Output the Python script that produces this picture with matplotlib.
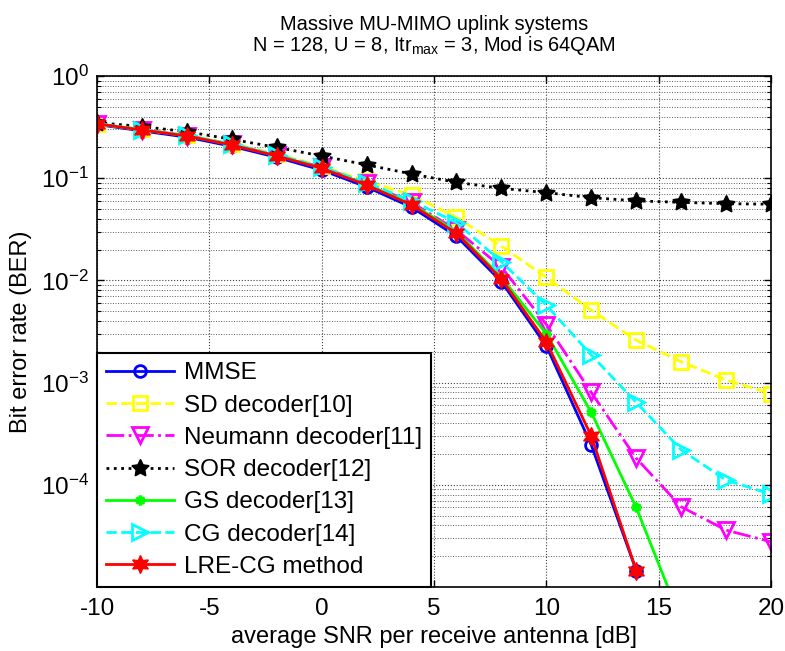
import matplotlib
matplotlib.use("Agg")
import matplotlib.pyplot as plt
import numpy as np

plt.rcParams['font.family'] = ['Liberation Sans', 'DejaVu Sans']
plt.rcParams['mathtext.fontset'] = 'custom'
plt.rcParams['mathtext.rm'] = 'Liberation Sans'
plt.rcParams['mathtext.it'] = 'Liberation Sans:italic'
plt.rcParams['axes.unicode_minus'] = False

# SNR points (dB)
snr = [-10, -8, -6, -4, -2, 0, 2, 4, 6, 8, 10, 12, 14, 16, 18, 20]
nan = np.nan

# BER
ber_mmse = [0.335, 0.29, 0.252, 0.205, 0.16, 0.12, 0.082, 0.052, 0.027, 0.0097,
            0.00228, 0.000245, 1.45e-5, nan, nan, nan]
ber_sd = [0.34, 0.30, 0.264, 0.218, 0.172, 0.132, 0.093, 0.0685, 0.0414, 0.0216,
          0.0107, 0.0051, 0.0026, 0.0016, 0.00106, 0.00078]
ber_neumann = [0.34, 0.298, 0.261, 0.214, 0.168, 0.128, 0.089, 0.058, 0.031, 0.0135,
               0.0037, 0.0008, 1.82e-4, 6.1e-5, 3.6e-5, 2.77e-5]
ber_sor = [0.35, 0.32, 0.285, 0.24, 0.20, 0.165, 0.135, 0.11, 0.091, 0.0796,
           0.0722, 0.0645, 0.060, 0.058, 0.0563, 0.0556]
ber_gs = [0.34, 0.297, 0.26, 0.212, 0.166, 0.126, 0.087, 0.056, 0.030, 0.0107,
          0.003, 0.00051, 6.0e-5, 4.7e-6, nan, nan]
ber_cg = [0.34, 0.298, 0.262, 0.215, 0.169, 0.129, 0.09, 0.060, 0.0367, 0.0152,
          0.0057, 0.00186, 0.00064, 2.2e-4, 1.11e-4, 8.1e-5]
ber_lre = [0.34, 0.296, 0.259, 0.211, 0.165, 0.125, 0.0857, 0.0547, 0.0289, 0.0103,
           0.0025, 0.0003, 1.45e-5, nan, nan, nan]

labels = ['MMSE', 'SD decoder[10]', 'Neumann decoder[11]', 'SOR decoder[12]',
          'GS decoder[13]', 'CG decoder[14]', 'LRE-CG method']

fig = plt.figure(figsize=(7.85, 6.51), dpi=100)
ax = fig.add_axes([0.1236, 0.0983, 0.8586, 0.785])

lw = 2
ax.plot(snr, ber_mmse, '-', color='blue', lw=lw, marker='o', ms=8.5, mfc='none', mew=2, label=labels[0])
ax.plot(snr, ber_sd, '--', color='yellow', lw=lw, marker='s', ms=10, mfc='none', mew=2, label=labels[1])
ax.plot(snr, ber_neumann, '-.', color='magenta', lw=lw, marker='v', ms=11, mfc='none', mew=2, label=labels[2])
ax.plot(snr, ber_sor, ':', color='black', lw=lw, marker=(5, 1, 0), ms=13, mfc='black', label=labels[3])
ax.plot(snr, ber_gs, '-', color='#00ff00', lw=lw, marker=(6, 2, 0), ms=7, mew=2.5, label=labels[4])
ax.plot(snr, ber_cg, '--', color='cyan', lw=lw, marker='>', ms=11, mfc='none', mew=2, label=labels[5])
ax.plot(snr, ber_lre, '-', color='red', lw=lw, marker=(6, 1, 0), ms=13, mfc='red', label=labels[6])

ax.set_yscale('log')
ax.set_xlim(-10, 20)
ax.set_ylim(1e-5, 1)
ax.set_xticks([-10, -5, 0, 5, 10, 15, 20])
ax.set_yticks([1e-4, 1e-3, 1e-2, 1e-1, 1])
ax.tick_params(which='both', direction='in', top=True, right=True, labelsize=17.5)
ax.tick_params(axis='x', pad=8)
ax.tick_params(axis='y', pad=6)
ax.tick_params(which='major', length=5, width=1)
ax.tick_params(which='minor', length=3, width=0.8)
ax.grid(which='major', linestyle=':', color='0.25', lw=0.8)
ax.grid(which='minor', axis='y', linestyle=':', color='0.35', lw=0.7)
for s in ax.spines.values():
    s.set_linewidth(1.2)

ax.set_xlabel('average SNR per receive antenna [dB]', fontsize=17, labelpad=4)
ax.set_ylabel('Bit error rate (BER)', fontsize=17, labelpad=6)
ax.set_title('Massive MU-MIMO uplink systems\nN = 128, U = 8, Itr$_{\\mathrm{max}}$ = 3, Mod is 64QAM',
             fontsize=14.4, pad=18, linespacing=1.0)

leg = ax.legend(loc='lower left', fontsize=17.5, borderaxespad=0, fancybox=False,
                framealpha=1, edgecolor='black', handlelength=2.8, handletextpad=0.4,
                labelspacing=0.42, borderpad=0.38)
leg.get_frame().set_linewidth(1.5)

fig.savefig('out.png', dpi=100)
